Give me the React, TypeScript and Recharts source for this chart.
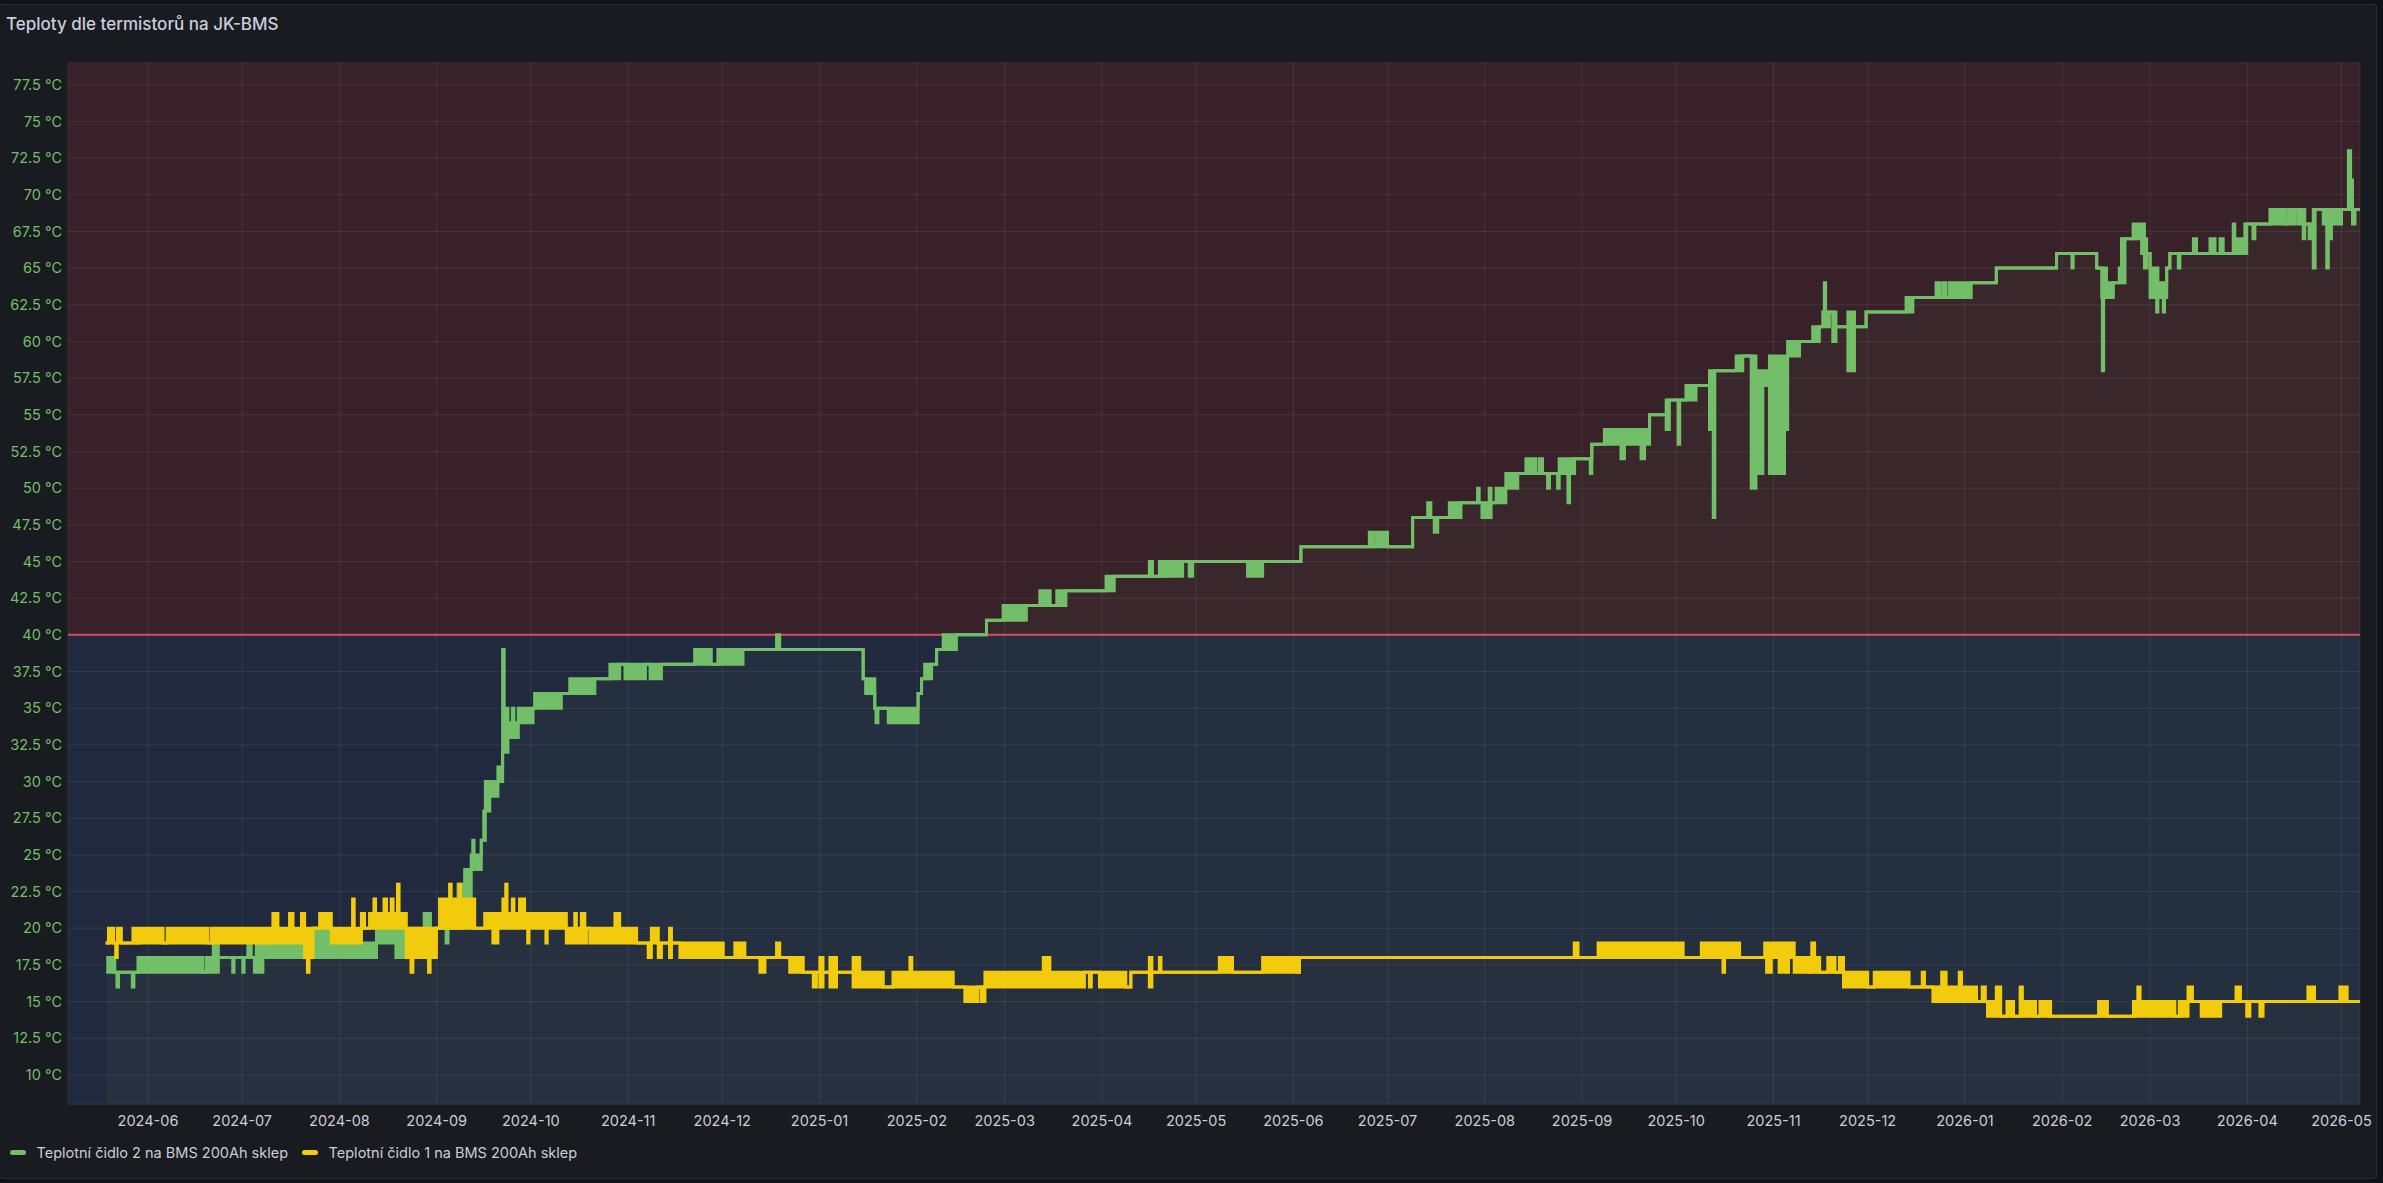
import React from 'react';
import {
  ComposedChart,
  Area,
  XAxis,
  YAxis,
  CartesianGrid,
  ReferenceArea,
  ReferenceLine,
} from 'recharts';

// ---------- data ----------
const TITLE = 'Teploty dle termistorů na JK-BMS';
const SERIES_NAMES = ['Teplotní čidlo 2 na BMS 200Ah sklep', 'Teplotní čidlo 1 na BMS 200Ah sklep'];
const SERIES_COLORS = ['#73BF69', '#F2CC0C'];
const SERIES_FILL_OPACITY = [0.045, 0.012];

// x values are days counted from 2024-06-01
const BASE_DATE = '2024-06-01';
const VIEW_START = -25.5;
const VIEW_END = 704.9;

const MONTH_TICKS = [
  '2024-06', '2024-07', '2024-08', '2024-09', '2024-10', '2024-11', '2024-12',
  '2025-01', '2025-02', '2025-03', '2025-04', '2025-05', '2025-06', '2025-07',
  '2025-08', '2025-09', '2025-10', '2025-11', '2025-12', '2026-01', '2026-02',
  '2026-03', '2026-04', '2026-05',
];

const Y_MIN = 8;
const Y_MAX = 79;
const Y_TICKS = [10, 12.5, 15, 17.5, 20, 22.5, 25, 27.5, 30, 32.5, 35, 37.5, 40, 42.5, 45, 47.5, 50, 52.5, 55, 57.5, 60, 62.5, 65, 67.5, 70, 72.5, 75, 77.5];
const THRESHOLD = 40;

// [start day, low °C, high °C] – the value runs until the next entry; low<high = the sensor flickers between them
const SENSOR2: [number, number, number][] = [
  [-13.3, 17, 18], [-10.6, 17, 17], [-9.9, 16, 17], [-9.4, 17, 17], [-5.0, 16, 17], [-4.5, 17, 17],
  [-3.2, 17, 18], [17.5, 17, 17], [18.6, 17, 18], [20.8, 17, 19], [22.4, 18, 18], [27.0, 17, 18],
  [27.4, 18, 18], [30.2, 17, 18], [30.6, 18, 18], [31.8, 18, 19], [32.9, 18, 18], [33.9, 17, 18],
  [34.5, 17, 19], [36.6, 18, 19], [50.5, 18, 19], [52.6, 18, 20], [58.4, 18, 19], [72.8, 19, 20],
  [79.0, 18, 20], [82.0, 19, 20], [88.0, 19, 21], [90.0, 19, 20], [91.9, 20, 20], [95.0, 19, 20],
  [95.6, 20, 20], [98.8, 20, 23], [100.0, 21, 21], [100.9, 21, 24], [103.0, 24, 25], [103.5, 24, 26],
  [103.9, 24, 25], [106.2, 26, 26], [107.0, 26, 28], [107.5, 28, 30], [108.9, 29, 30], [111.5, 30, 31],
  [113.0, 32, 39], [113.5, 32, 35], [114.7, 33, 34], [116.1, 33, 35], [116.6, 33, 34], [118.0, 34, 35],
  [122.7, 35, 35], [123.2, 35, 36], [131.7, 36, 36], [134.4, 36, 37], [142.4, 37, 37], [147.2, 37, 38],
  [150.3, 38, 38], [152.0, 37, 38], [158.5, 38, 38], [160.0, 37, 38], [163.6, 38, 38], [174.2, 38, 39],
  [179.5, 38, 38], [181.6, 38, 39], [189.6, 39, 39], [200.3, 39, 40], [201.3, 39, 39], [227.9, 37, 37],
  [228.7, 36, 37], [231.6, 35, 35], [232.0, 34, 35], [232.6, 35, 35], [235.9, 34, 35], [245.4, 36, 36],
  [246.5, 37, 37], [247.5, 37, 38], [249.7, 38, 38], [251.3, 39, 39], [253.4, 39, 40], [257.6, 40, 40],
  [267.2, 41, 41], [272.5, 41, 42], [279.9, 42, 42], [284.2, 42, 43], [287.5, 42, 42], [289.6, 42, 43],
  [292.5, 43, 43], [305.3, 43, 44], [307.9, 44, 44], [319.1, 44, 45], [320.1, 44, 44], [322.3, 44, 45],
  [324.4, 44, 44], [324.9, 44, 45], [329.7, 45, 45], [331.8, 44, 45], [332.9, 45, 45], [350.4, 44, 45],
  [355.2, 45, 45], [367.4, 46, 46], [389.2, 46, 47], [390.3, 46, 46], [391.3, 46, 47], [395.0, 46, 46],
  [403.0, 48, 48], [407.8, 48, 49], [408.8, 48, 48], [409.9, 47, 48], [411.0, 48, 48], [414.7, 48, 49],
  [418.4, 49, 49], [423.7, 49, 50], [424.2, 49, 49], [425.1, 48, 49], [427.4, 48, 50], [428.0, 49, 49],
  [429.6, 49, 50], [432.7, 50, 51], [436.5, 51, 51], [439.1, 51, 52], [442.3, 51, 51], [443.4, 51, 52],
  [444.4, 51, 51], [446.0, 50, 51], [446.6, 51, 51], [449.2, 50, 51], [449.7, 51, 52], [452.5, 49, 52],
  [453.0, 51, 52], [454.6, 52, 52], [459.6, 51, 52], [460.1, 53, 53], [464.1, 53, 54], [469.4, 52, 54],
  [470.5, 53, 54], [475.8, 52, 54], [476.9, 53, 54], [478.5, 55, 55], [483.8, 54, 56], [484.8, 56, 56],
  [487.6, 53, 56], [488.1, 56, 56], [490.1, 56, 57], [493.3, 57, 57], [497.6, 54, 58], [498.0, 57, 58],
  [498.8, 48, 58], [499.3, 58, 58], [506.1, 58, 59], [508.2, 59, 59], [510.9, 50, 59], [512.4, 51, 58],
  [514.6, 57, 58], [516.7, 51, 59], [521.5, 54, 59], [522.5, 59, 60], [526.3, 60, 60], [530.5, 60, 61],
  [532.6, 61, 61], [533.7, 61, 62], [534.2, 61, 64], [534.6, 61, 62], [535.8, 62, 62], [536.9, 60, 62],
  [537.9, 61, 61], [541.7, 58, 62], [543.8, 61, 61], [547.5, 62, 62], [560.3, 63, 63], [561.3, 62, 63],
  [562.4, 63, 63], [569.8, 63, 64], [570.9, 63, 63], [571.9, 63, 64], [573.0, 63, 63], [574.1, 63, 64],
  [581.0, 64, 64], [589.0, 65, 65], [608.2, 66, 66], [613.1, 65, 66], [613.5, 66, 66], [621.0, 65, 65],
  [622.6, 63, 65], [622.8, 58, 65], [623.2, 63, 65], [624.1, 63, 64], [626.3, 64, 64], [628.2, 64, 65],
  [628.9, 64, 67], [630.0, 67, 67], [632.6, 67, 68], [635.3, 66, 68], [636.2, 65, 67], [636.9, 66, 66],
  [638.0, 63, 65], [640.1, 62, 65], [640.5, 63, 64], [642.2, 62, 64], [642.6, 63, 64], [643.3, 65, 65],
  [644.3, 66, 66], [647.0, 65, 66], [647.5, 66, 66], [651.8, 66, 67], [652.8, 66, 66], [657.1, 66, 67],
  [658.7, 66, 66], [660.3, 66, 67], [661.3, 66, 66], [664.5, 66, 68], [665.0, 66, 67], [668.2, 66, 68],
  [668.8, 68, 68], [670.8, 67, 68], [671.4, 68, 68], [676.2, 68, 69], [681.0, 68, 68], [682.0, 68, 69],
  [684.2, 69, 69], [685.2, 68, 69], [686.8, 67, 69], [687.3, 68, 68], [688.7, 67, 68], [689.5, 68, 68],
  [690.0, 65, 69], [690.6, 69, 69], [693.2, 68, 69], [694.3, 65, 69], [694.8, 68, 69], [695.3, 67, 69],
  [695.8, 68, 69], [699.0, 69, 69], [701.2, 69, 73], [701.9, 69, 71], [702.5, 68, 69], [703.3, 69, 69],
];

const SENSOR1: [number, number, number][] = [
  [-13.5, 19, 19], [-12.6, 19, 20], [-11.0, 19, 19], [-10.3, 18, 19], [-9.8, 19, 20], [-8.5, 19, 19],
  [-4.8, 19, 20], [-3.5, 19, 19], [-2.7, 19, 20], [4.8, 19, 19], [6.1, 19, 20], [19.1, 19, 19],
  [20.2, 19, 20], [36.6, 19, 19], [37.5, 19, 20], [39.8, 19, 21], [41.4, 19, 20], [45.1, 19, 21],
  [46.2, 19, 20], [48.9, 19, 21], [49.9, 18, 20], [50.8, 17, 20], [51.3, 18, 20], [52.6, 20, 20],
  [54.7, 20, 21], [58.4, 19, 20], [65.2, 19, 22], [65.7, 19, 20], [68.0, 20, 21], [69.0, 20, 20],
  [70.6, 20, 21], [72.0, 20, 22], [72.5, 20, 21], [75.2, 20, 22], [76.0, 20, 21], [77.5, 20, 22],
  [78.1, 20, 21], [79.5, 20, 23], [80.0, 20, 21], [82.3, 18, 20], [83.8, 17, 20], [84.4, 18, 20],
  [89.4, 17, 20], [89.9, 18, 20], [91.9, 20, 20], [92.9, 20, 22], [96.1, 20, 23], [96.6, 20, 22],
  [99.1, 20, 23], [99.6, 20, 22], [104.1, 20, 20], [107.3, 20, 21], [109.9, 19, 21], [111.5, 20, 21],
  [113.1, 20, 22], [114.0, 20, 23], [114.4, 20, 21], [116.1, 20, 22], [116.6, 20, 21], [118.4, 20, 22],
  [120.0, 20, 21], [121.0, 19, 21], [121.4, 20, 21], [126.8, 19, 21], [127.2, 20, 21], [133.3, 19, 20],
  [136.0, 19, 21], [136.5, 19, 20], [138.1, 19, 21], [139.2, 19, 20], [139.7, 20, 20], [140.8, 19, 20],
  [148.8, 19, 21], [150.3, 19, 20], [155.7, 19, 19], [159.4, 18, 19], [160.4, 19, 20], [162.6, 18, 19],
  [163.6, 19, 19], [166.2, 18, 20], [166.8, 19, 19], [169.5, 18, 19], [183.3, 18, 18], [187.0, 18, 19],
  [190.2, 18, 18], [195.0, 17, 18], [196.6, 18, 18], [200.3, 18, 19], [201.3, 18, 18], [204.5, 17, 18],
  [208.8, 17, 17], [212.0, 16, 17], [213.0, 17, 17], [214.1, 16, 18], [215.1, 17, 17], [217.3, 16, 18],
  [219.4, 17, 17], [224.7, 16, 18], [226.8, 16, 17], [234.3, 16, 16], [237.4, 16, 17], [242.8, 16, 18],
  [243.4, 16, 17], [256.6, 16, 16], [260.3, 15, 16], [264.5, 16, 16], [265.6, 15, 16], [266.7, 16, 17],
  [285.3, 16, 18], [287.4, 16, 17], [298.4, 17, 17], [300.0, 16, 17], [300.6, 17, 17], [303.2, 16, 17],
  [311.6, 16, 16], [313.2, 17, 17], [319.1, 16, 18], [319.9, 17, 17], [322.3, 17, 18], [322.8, 17, 17],
  [341.4, 17, 18], [345.6, 17, 17], [355.2, 17, 18], [366.4, 17, 17], [366.9, 18, 18], [454.5, 18, 19],
  [455.7, 18, 18], [462.1, 18, 19], [489.2, 18, 18], [495.0, 18, 19], [501.9, 17, 19], [502.4, 18, 19],
  [507.2, 18, 18], [515.2, 18, 19], [515.8, 17, 19], [517.3, 18, 19], [519.8, 17, 19], [522.8, 18, 19],
  [524.6, 17, 18], [529.3, 17, 17], [530.2, 17, 19], [531.1, 17, 18], [532.7, 17, 17], [535.3, 17, 18],
  [537.6, 17, 17], [539.0, 17, 18], [540.3, 16, 17], [548.0, 16, 16], [550.1, 16, 17], [561.2, 16, 16],
  [565.4, 16, 17], [566.1, 16, 16], [568.8, 15, 16], [570.9, 16, 16], [571.6, 15, 17], [573.0, 15, 16],
  [577.2, 15, 17], [577.9, 15, 16], [582.7, 15, 15], [584.5, 15, 16], [585.5, 15, 15], [586.2, 14, 15],
  [589.0, 14, 16], [590.4, 14, 14], [592.4, 14, 15], [594.5, 14, 14], [596.6, 14, 16], [597.3, 14, 15],
  [601.5, 14, 14], [602.9, 14, 15], [606.3, 14, 14], [621.6, 14, 15], [624.4, 14, 14], [632.7, 14, 15],
  [634.1, 14, 16], [634.8, 14, 15], [645.9, 14, 14], [647.3, 14, 15], [650.1, 15, 16], [651.5, 15, 15],
  [654.3, 14, 15], [660.5, 15, 15], [665.4, 15, 16], [666.8, 15, 15], [668.8, 14, 15], [669.8, 15, 15],
  [673.0, 14, 15], [674.0, 15, 15], [688.3, 15, 16], [690.4, 15, 15], [698.5, 15, 16], [700.8, 15, 15],
];

// ---------- helpers ----------
const DAY_MS = 86400000;
const baseMs = Date.parse(BASE_DATE + 'T00:00:00Z');
const monthDay = (ym: string) => (Date.parse(ym + '-01T00:00:00Z') - baseMs) / DAY_MS;
const X_TICKS = MONTH_TICKS.map(monthDay);
const tickLabel = new Map(X_TICKS.map((d, i) => [d, MONTH_TICKS[i]]));

function toPoints(segs: [number, number, number][]) {
  const pts = segs.map(([d, lo, hi]) => ({ d, lo, range: [lo, hi] }));
  const last = segs[segs.length - 1];
  pts.push({ d: VIEW_END, lo: last[1], range: [last[1], last[2]] });
  return pts;
}

const seriesData = [toPoints(SENSOR2), toPoints(SENSOR1)];

const FONT = "Inter, 'Noto Sans', 'DejaVu Sans', sans-serif";
const W = 2383;
const H = 1183;

export default function App() {
  return (
    <div style={{ position: 'relative', width: W, height: H, overflow: 'hidden', background: '#111217', fontFamily: FONT }}>
      <style>{'html,body{margin:0;padding:0;background:#111217;}'}</style>
      <div
        style={{
          position: 'absolute', left: -1, top: 4, width: 2378, height: 1175,
          background: '#181b1f', border: '1px solid #2a2d34', borderRadius: 3, boxSizing: 'border-box',
        }}
      />
      <div
        style={{
          position: 'absolute', left: 6, top: 16, fontSize: 17, lineHeight: '17px',
          fontWeight: 500, color: '#ccccdc', whiteSpace: 'nowrap',
        }}
      >
        {TITLE}
      </div>
      <div style={{ position: 'absolute', left: 0, top: 0 }}>
        <ComposedChart width={W} height={H} margin={{ top: 62.7, right: 23, bottom: 48.7, left: 8 }}>
          <ReferenceArea y1={THRESHOLD} y2={Y_MAX} fill="#F2495C" fillOpacity={0.15} stroke="none" zIndex={-200} />
          <ReferenceArea y1={Y_MIN} y2={THRESHOLD} fill="#547FF4" fillOpacity={0.15} stroke="none" zIndex={-200} />
          <CartesianGrid stroke="rgba(204,204,220,0.1)" strokeWidth={1} />
          <XAxis
            type="number"
            dataKey="d"
            domain={[VIEW_START, VIEW_END]}
            allowDataOverflow
            ticks={X_TICKS}
            tickFormatter={(d: number) => tickLabel.get(d) ?? ''}
            axisLine={false}
            tickLine={false}
            tickSize={0}
            tickMargin={11}
            height={30}
            interval={0}
            tick={{ fill: '#ccccdc', fontSize: 14.5, fontFamily: FONT }}
          />
          <YAxis
            type="number"
            domain={[Y_MIN, Y_MAX]}
            allowDataOverflow
            ticks={Y_TICKS}
            tickFormatter={(v: number) => `${v} °C`}
            axisLine={false}
            tickLine={false}
            tickSize={0}
            tickMargin={6}
            width={60}
            interval={0}
            tick={{ fill: '#73BF69', fontSize: 14.5, fontFamily: FONT }}
          />
          <ReferenceLine y={THRESHOLD} stroke="#E0485C" strokeWidth={2} zIndex={50} />
          {seriesData.map((data, i) => (
            <Area
              key={'fill' + i}
              data={data}
              dataKey="lo"
              type="stepAfter"
              stroke="none"
              fill={SERIES_COLORS[i]}
              fillOpacity={SERIES_FILL_OPACITY[i]}
              isAnimationActive={false}
              dot={false}
              activeDot={false}
              legendType="none"
            />
          ))}
          {seriesData.map((data, i) => (
            <Area
              key={'line' + i}
              data={data}
              dataKey="range"
              name={SERIES_NAMES[i]}
              type="stepAfter"
              stroke={SERIES_COLORS[i]}
              strokeWidth={3}
              fill={SERIES_COLORS[i]}
              fillOpacity={1}
              isAnimationActive={false}
              dot={false}
              activeDot={false}
            />
          ))}
        </ComposedChart>
      </div>
      <div
        style={{
          position: 'absolute', left: 10, top: 1142, height: 20, display: 'flex', alignItems: 'center',
          fontSize: 14.5, color: '#ccccdc', whiteSpace: 'nowrap',
        }}
      >
        {SERIES_NAMES.map((name, i) => (
          <div key={name} style={{ display: 'flex', alignItems: 'center', marginRight: 14 }}>
            <div style={{ width: 16, height: 5, borderRadius: 3, background: SERIES_COLORS[i], marginRight: 10.5 }} />
            <span>{name}</span>
          </div>
        ))}
      </div>
    </div>
  );
}
